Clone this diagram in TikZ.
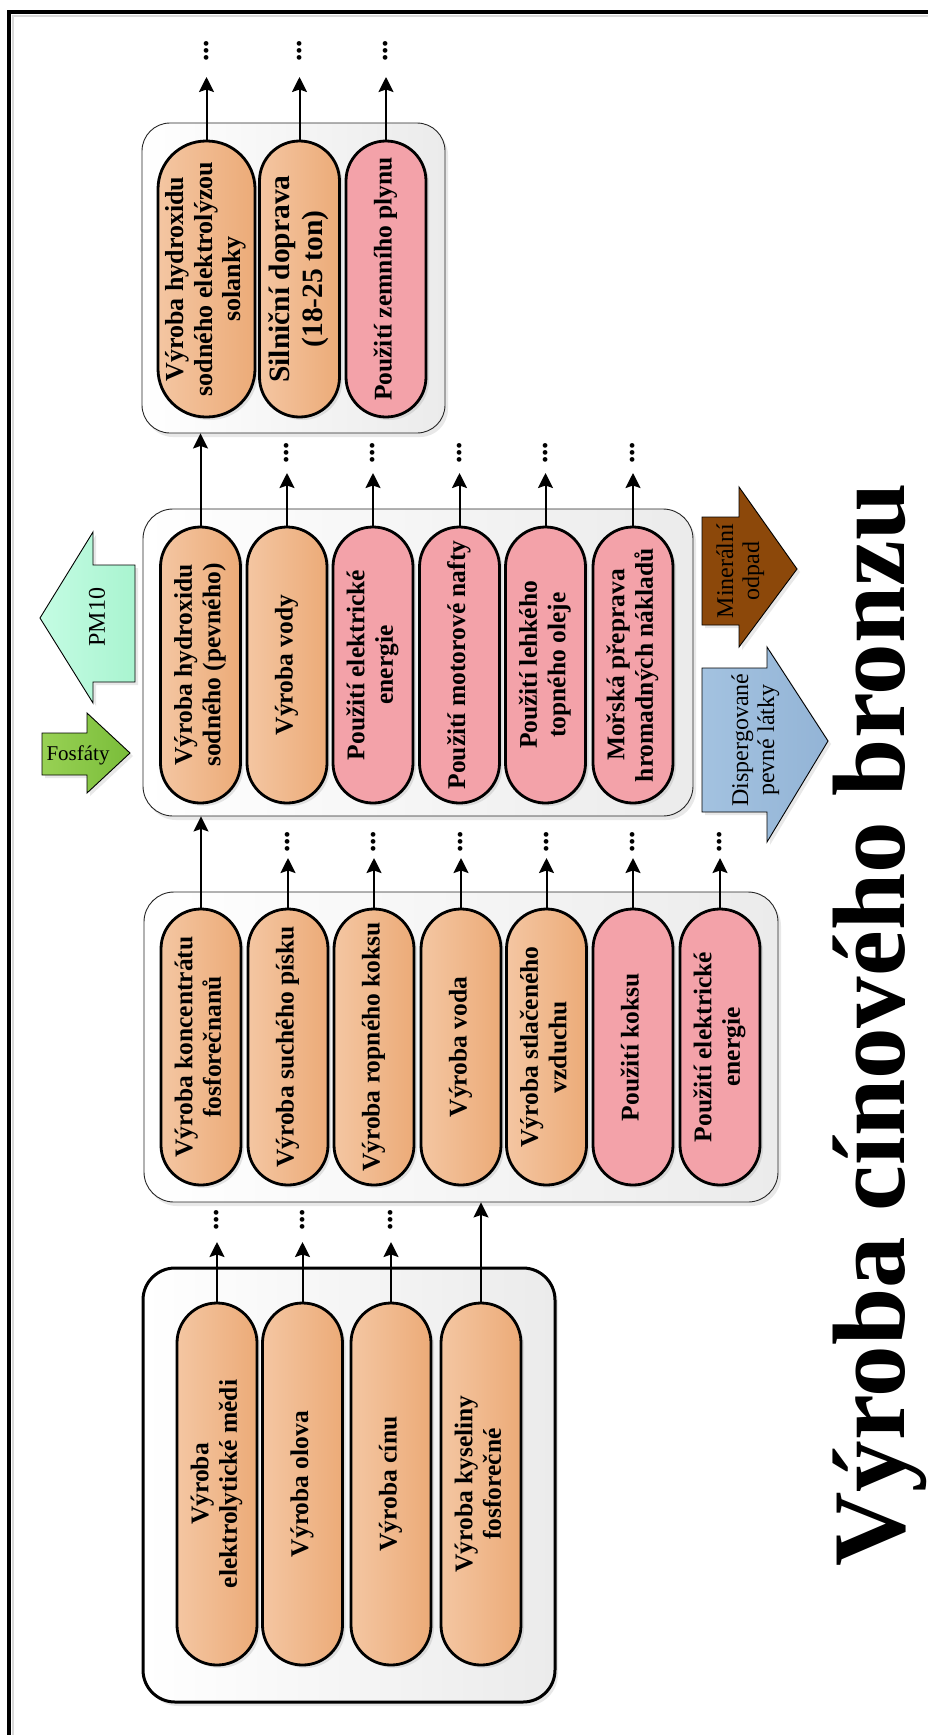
\documentclass[tikz,border=0pt]{standalone}
\usepackage{fontspec}
\setmainfont{Liberation Serif}
\usepackage{graphicx}
\usetikzlibrary{arrows.meta,shadows}

\definecolor{orL}{HTML}{F4C6A2}
\definecolor{orR}{HTML}{ECAB78}
\definecolor{pinkF}{HTML}{F3A2A9}
\definecolor{contR}{HTML}{EBEBEB}
\definecolor{mintL}{HTML}{C4FCE3}
\definecolor{mintR}{HTML}{A9F4D0}
\definecolor{grnL}{HTML}{98D154}
\definecolor{grnR}{HTML}{7ABD3A}
\definecolor{brn}{HTML}{8C480A}
\definecolor{bluL}{HTML}{A3C2E0}
\definecolor{bluR}{HTML}{93B4D6}

% text turned to read from bottom to top, several centred lines
\newcommand{\vlines}[1]{\rotatebox{90}{\begin{tabular}{@{}c@{}}#1\end{tabular}}}

\tikzset{
  cont/.style={draw=black!85, line width=0.9pt, rounded corners=28pt,
    left color=white, right color=contR, inner sep=0pt,
    drop shadow={shadow xshift=3pt, shadow yshift=-4pt, opacity=0.18}},
  pillbase/.style={draw=black, line width=2.8pt, inner sep=0pt,
    minimum width=80pt, rounded corners=39.9pt,
    drop shadow={shadow xshift=3pt, shadow yshift=-3pt, opacity=0.2},
    font=\fontsize{25.5}{28.5}\selectfont\bfseries},
  orpill/.style={pillbase, left color=orL, right color=orR},
  pkpill/.style={pillbase, fill=pinkF},
  arr/.style={line width=2pt, -{Stealth[length=15pt,width=15pt,inset=2.5pt]}},
  dotsnode/.style={inner sep=0pt, font=\fontsize{29}{29}\selectfont\bfseries},
  blockarrow/.style={draw=black, line width=0.9pt,
    drop shadow={shadow xshift=3pt, shadow yshift=-3pt, opacity=0.18}},
  arrowtext/.style={inner sep=0pt, font=\fontsize{24}{26}\selectfont}
}

\begin{document}
\begin{tikzpicture}[x=1pt,y=-1pt]
\useasboundingbox (0,0) rectangle (928,1735);
\fill[white] (0,0) rectangle (928,1735);

% page frame
\draw[black!15, line width=2pt] (13,1760) -- (13,16) -- (950,16);
\draw[line width=3.5pt] (9,1760) -- (9,12) -- (950,12);

% group containers
\node[cont, minimum width=303pt, minimum height=310pt] (A) at (293.5,278) {};
\node[cont, minimum width=550pt, minimum height=307pt, rounded corners=30pt] (B) at (418,662.5) {};
\node[cont, minimum width=634pt, minimum height=310pt, rounded corners=30pt] (C) at (461,1047) {};
\node[cont, minimum width=412pt, minimum height=434pt, rounded corners=32pt, draw=black, line width=3pt] (D) at (349,1485) {};

% top group
\node[orpill, minimum width=97pt, minimum height=276pt, rounded corners=48pt,
      font=\fontsize{26}{28.5}\selectfont\bfseries] (A1) at (206.5,279)
  {\vlines{Výroba hydroxidu\\sodného elektrolýzou\\solanky}};
\node[orpill, minimum height=276pt, font=\fontsize{29.5}{33}\selectfont\bfseries] (A2) at (299.5,279)
  {\vlines{Silniční doprava\\(18-25 ton)}};
\node[pkpill, minimum height=276pt] (A3) at (386,279) {\vlines{Použití zemního plynu}};

% second group
\node[orpill, minimum height=276pt] (B1) at (200.5,665) {\vlines{Výroba hydroxidu\\sodného (pevného)}};
\node[orpill, minimum height=276pt] (B2) at (287,665) {\vlines{Výroba vody}};
\node[pkpill, minimum height=276pt] (B3) at (373,665) {\vlines{Použití elektrické\\energie}};
\node[pkpill, minimum height=276pt] (B4) at (459.5,665) {\vlines{Použití motorové nafty}};
\node[pkpill, minimum height=276pt] (B5) at (545.5,665) {\vlines{Použití lehkého\\topného oleje}};
\node[pkpill, minimum height=276pt] (B6) at (633,665) {\vlines{Mořská přeprava\\hromadných nákladů}};

% third group
\node[orpill, minimum height=276pt] (C1) at (201,1047) {\vlines{Výroba koncentrátu\\fosforečnanů}};
\node[orpill, minimum height=276pt] (C2) at (288,1047) {\vlines{Výroba suchého písku}};
\node[orpill, minimum height=276pt] (C3) at (374,1047) {\vlines{Výroba ropného koksu}};
\node[orpill, minimum height=276pt] (C4) at (461,1047) {\vlines{Výroba voda}};
\node[orpill, minimum height=276pt] (C5) at (546.5,1047) {\vlines{Výroba stlačeného\\vzduchu}};
\node[pkpill, minimum height=276pt] (C6) at (633,1047) {\vlines{Použití koksu}};
\node[pkpill, minimum height=276pt] (C7) at (720,1047) {\vlines{Použití elektrické\\energie}};

% bottom group
\node[orpill, minimum height=362pt] (D1) at (217,1484) {\vlines{Výroba\\elektrolytické mědi}};
\node[orpill, minimum height=362pt] (D2) at (302.5,1484) {\vlines{Výroba olova}};
\node[orpill, minimum height=362pt] (D3) at (391,1484) {\vlines{Výroba cínu}};
\node[orpill, minimum height=362pt] (D4) at (481,1484) {\vlines{Výroba kyseliny\\fosforečné}};

% links between groups
\draw[arr] (B1.north) -- (B1.north |- A.south);
\draw[arr] (C1.north) -- (C1.north |- B.south);
\draw[arr] (D4.north) -- (D4.north |- C.south);

% outputs that continue elsewhere
\foreach \p/\ty/\dy in {A1/77/51, A2/77/51, A3/77/51,
                        B2/473/453, B3/473/453, B4/473/453, B5/473/453, B6/473/453,
                        C2/858/842, C3/858/842, C4/858/842, C5/858/842, C6/858/842, C7/858/842,
                        D1/1242/1220, D2/1242/1220, D3/1242/1220} {
  \coordinate (t\p) at (\p.north |- 0,\ty);
  \node[dotsnode] (d\p) at (\p.north |- 0,\dy) {\rotatebox{90}{...}};
  \draw[arr] (\p.north) -- (t\p);
}

% PM10 (pointing left)
\draw[blockarrow, left color=mintL, right color=mintR]
  (40,618) -- (93,532) -- (93,565) -- (135,565) -- (135,682) -- (93,682) -- (93,703) -- cycle;
\node[arrowtext, rotate=90] (pm) at (97,617) {PM10};

% Fosfáty (pointing right)
\draw[blockarrow, left color=grnL, right color=grnR]
  (42,733) -- (87,733) -- (87,713) -- (130,753) -- (87,793) -- (87,775) -- (42,775) -- cycle;
\node[arrowtext, font=\fontsize{21}{24}\selectfont] (fos) at (78,755) {Fosfáty};

% Minerální odpad
\draw[blockarrow, fill=brn]
  (702,517) -- (739,517) -- (739,487) -- (797,569) -- (739,647) -- (739,625) -- (702,625) -- cycle;
\node[arrowtext] (min) at (741,571) {\vlines{Minerální\\odpad}};

% Dispergované pevné látky
\draw[blockarrow, left color=bluL, right color=bluR]
  (702,668) -- (767,668) -- (767,647) -- (828,741) -- (767,842) -- (767,812) -- (702,812) -- cycle;
\node[arrowtext] (disp) at (756,740) {\vlines{Dispergované\\pevné látky}};

% title
\node[rotate=90, anchor=base, inner sep=0pt, font=\fontsize{103}{110}\selectfont\bfseries]
  (title) at (904,1025) {Výroba cínového bronzu};
\end{tikzpicture}
\end{document}
